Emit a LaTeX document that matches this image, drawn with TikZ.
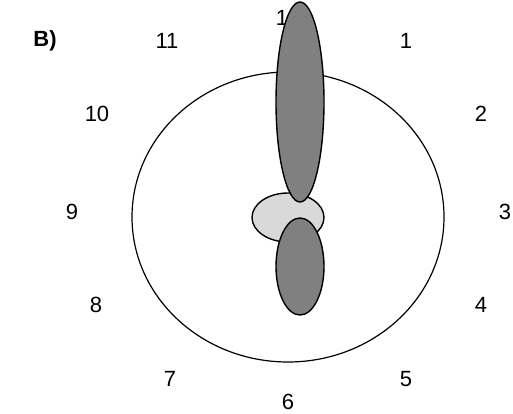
\documentclass[tikz,border=0pt]{standalone}
\usepackage{fontspec}
\setmainfont{Liberation Sans}
\begin{document}
\begin{tikzpicture}[x=1pt,y=-1pt,
  lbl/.style={font=\fontsize{22}{26}\selectfont, inner sep=0pt},
  dark/.style={draw=black, line width=1.4pt, fill={rgb,255:red,128;green,128;blue,128}},
  light/.style={draw=black, line width=1.4pt, fill=black!15}]
\useasboundingbox (0,0) rectangle (513,414);
\node[lbl, font=\fontsize{22}{26}\selectfont\bfseries] (B) at (45,41) {B)};
\node[lbl] (h12) at (288,18) {12};
\node[lbl] (h1) at (406,41) {1};
\node[lbl] (h2) at (481,114) {2};
\node[lbl] (h3) at (505,212) {3};
\node[lbl] (h4) at (481,305) {4};
\node[lbl] (h5) at (406,379) {5};
\node[lbl] (h6) at (288,402) {6};
\node[lbl] (h7) at (170,379) {7};
\node[lbl] (h8) at (96,305) {8};
\node[lbl] (h9) at (72,212) {9};
\node[lbl] (h10) at (97,114) {10};
\node[lbl] (h11) at (167,41) {11};
\draw[line width=1.2pt] (288,217) ellipse [x radius=156, y radius=145];
\draw[light] (288,217.5) ellipse [x radius=36, y radius=24.5];
\draw[dark] (300,102) ellipse [x radius=24, y radius=100];
\draw[dark] (300,266.5) ellipse [x radius=24, y radius=48.5];
\end{tikzpicture}
\end{document}
